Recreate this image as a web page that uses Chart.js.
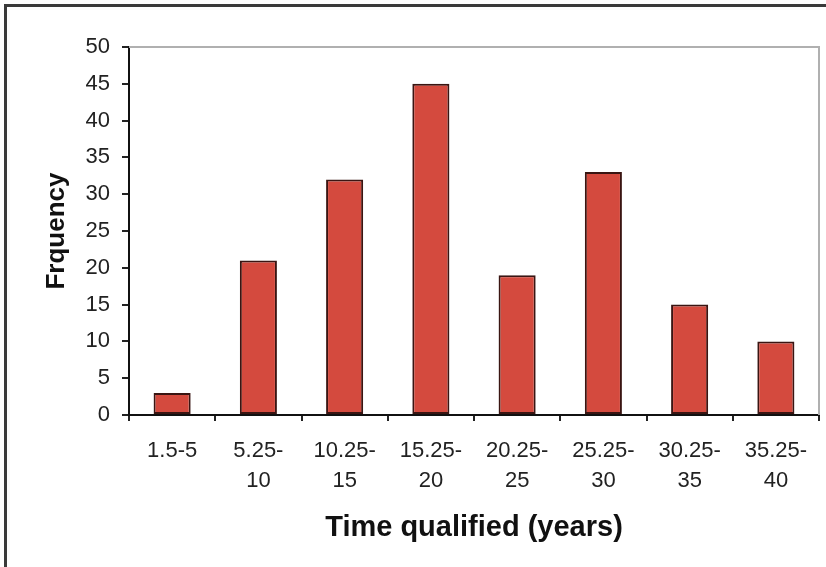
<!DOCTYPE html>
<html>
<head>
<meta charset="utf-8">
<script src="https://cdn.jsdelivr.net/npm/chart.js@4"></script>
<style>
  html, body { margin: 0; padding: 0; background: #fff; }
  #wrap { position: relative; width: 826px; height: 567px; }
  #frame { position: absolute; left: 4px; top: 4px; right: -10px; bottom: -10px;
           border-left: 3px solid #3a3a3a; border-top: 3px solid #3a3a3a; pointer-events: none; }
  canvas { position: absolute; left: 0; top: 0; }
</style>
</head>
<body>
<div id="wrap">
  <canvas id="c" width="826" height="567"></canvas>
  <div id="frame"></div>
</div>
<script>
// categories (two-line tick labels) and frequencies
const categories = [
    ['1.5-5'], ['5.25-', '10'], ['10.25-', '15'], ['15.25-', '20'],
    ['20.25-', '25'], ['25.25-', '30'], ['30.25-', '35'], ['35.25-', '40']
];
const frequency = [3, 21, 32, 45, 19, 33, 15, 10];
const yMin = 0, yMax = 50, yStep = 5;

const fontFam = '"Liberation Sans", Arial, sans-serif';

// light grey border on top/right of the plot area
const plotFrame = {
    id: 'plotFrame',
    beforeDatasetsDraw(chart) {
        const { ctx, chartArea: a } = chart;
        ctx.save();
        ctx.strokeStyle = '#b0b0b0';
        ctx.lineWidth = 2;
        ctx.beginPath();
        ctx.moveTo(a.left, a.top);
        ctx.lineTo(a.right, a.top);
        ctx.lineTo(a.right, a.bottom);
        ctx.stroke();
        ctx.restore();
    }
};

new Chart(document.getElementById('c'), {
    type: 'bar',
    data: {
        labels: categories,
        datasets: [{
            label: 'Frquency',
            data: frequency,
            backgroundColor: '#d44a3e',
            borderColor: '#3a1512',
            borderWidth: 2,
            borderSkipped: false,
            barPercentage: 0.43,
            categoryPercentage: 1
        }]
    },
    options: {
        responsive: false,
        animation: false,
        layout: { padding: { left: 0, top: 47, right: 7, bottom: 0 } },
        plugins: { legend: { display: false }, tooltip: { enabled: false } },
        scales: {
            x: {
                afterFit(s) { s.height = 152; },
                grid: { display: true, offset: true, drawOnChartArea: false, drawTicks: true,
                        tickLength: 6, color: '#222', lineWidth: 2 },
                border: { display: true, color: '#111', width: 2 },
                ticks: { color: '#222', padding: 15, maxRotation: 0, autoSkip: false,
                         font: { family: fontFam, size: 22, lineHeight: 1.36 } },
                title: { display: true, text: 'Time qualified (years)', color: '#111',
                         font: { family: fontFam, size: 29, weight: 'bold' },
                         padding: { top: 0, bottom: 22 } }
            },
            y: {
                min: yMin, max: yMax,
                afterFit(s) { s.width = 129; },
                grid: { drawOnChartArea: false, drawTicks: true, tickLength: 7,
                        color: '#222', lineWidth: 2 },
                border: { display: true, color: '#111', width: 2 },
                ticks: { stepSize: yStep, color: '#222', padding: 12,
                         font: { family: fontFam, size: 22 } },
                title: { display: true, text: 'Frquency', color: '#111',
                         font: { family: fontFam, size: 26, weight: 'bold' },
                         padding: { top: 41, bottom: 0 } }
            }
        }
    },
    plugins: [plotFrame]
});
</script>
</body>
</html>
